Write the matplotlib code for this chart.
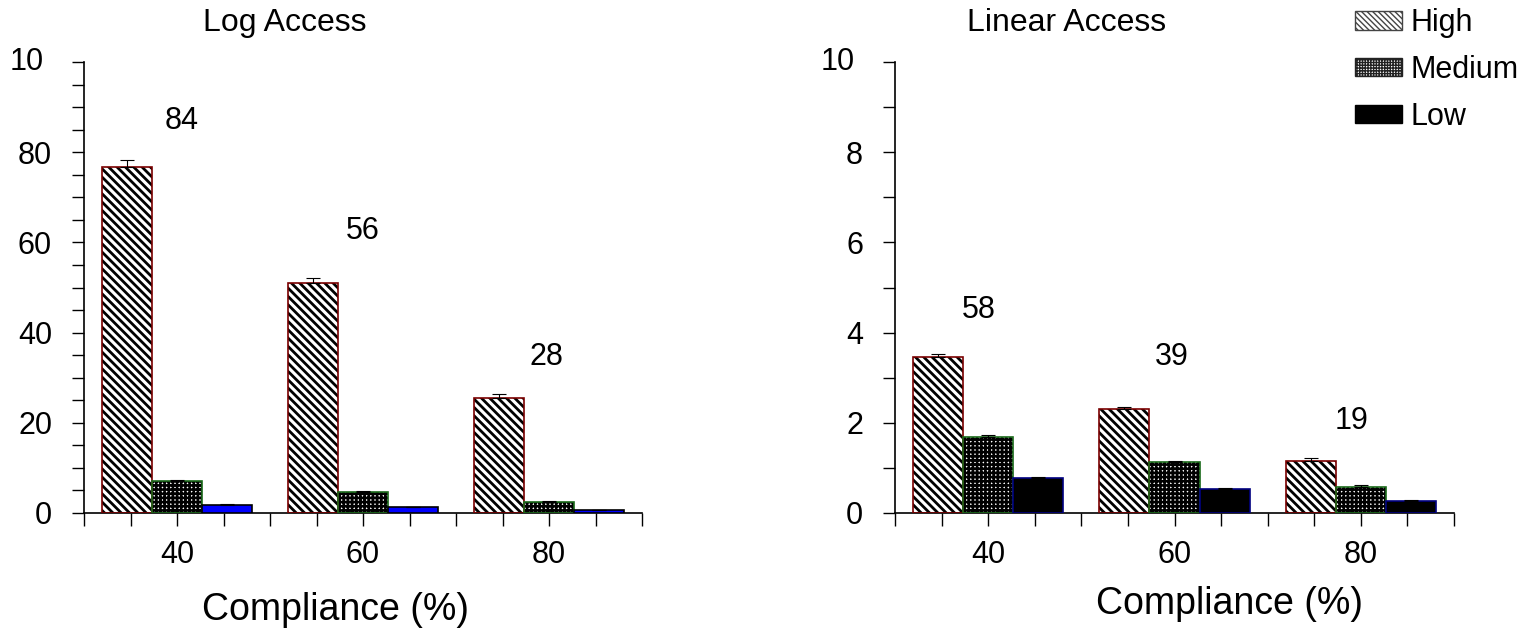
import numpy as np
import matplotlib
matplotlib.use("Agg")
import matplotlib.pyplot as plt
from matplotlib.patches import Patch

plt.rcParams['font.family'] = ['Liberation Sans', 'DejaVu Sans']

compliance = ['40', '60', '80']
levels = ['High', 'Medium', 'Low']

# Log Access panel
log_high = [76.7, 51.0, 25.6]
log_medium = [7.1, 4.7, 2.4]
log_low = [1.8, 1.3, 0.6]
log_high_err = [1.5, 1.0, 0.8]
log_medium_err = [0.3, 0.2, 0.2]
log_low_err = [0.1, 0.1, 0.1]
log_notes = ['84', '56', '28']
log_note_y = [87, 62.5, 34.5]

# Linear Access panel
lin_high = [3.46, 2.3, 1.15]
lin_medium = [1.69, 1.13, 0.58]
lin_low = [0.77, 0.53, 0.27]
lin_high_err = [0.06, 0.06, 0.06]
lin_medium_err = [0.03, 0.03, 0.03]
lin_low_err = [0.02, 0.02, 0.02]
lin_notes = ['58', '39', '19']
lin_note_y = [4.5, 3.45, 2.05]

fig = plt.figure(figsize=(15.34, 6.42), dpi=100)
ax1 = fig.add_axes([84 / 1534, 1 - 513 / 642, 558 / 1534, 451 / 642])
ax2 = fig.add_axes([895 / 1534, 1 - 513 / 642, 559 / 1534, 451 / 642])

w = 1.075
centers = np.arange(3) * 4
FS = 22


def hatched_bar(ax, x, h, err, hatch, hatch_lw, edge):
    with plt.rc_context({'hatch.linewidth': hatch_lw, 'hatch.color': 'black'}):
        ax.bar(x, h, w, color='white', edgecolor='black', hatch=hatch, linewidth=0, zorder=2)
    ax.bar(x, h, w, fill=False, edgecolor=edge, linewidth=1.2, zorder=3)
    ax.errorbar(x, h, yerr=[np.zeros(len(h)), err], fmt='none', ecolor='black',
                elinewidth=0.8, capsize=5, capthick=0.8, zorder=4)


def panel(ax, high, medium, low, errs, low_face, low_edge, ymax, step, minor, notes, note_y, note_x):
    hatched_bar(ax, centers - w, high, errs[0], '\\' * 4, 2.0, '#7a0000')
    hatched_bar(ax, centers, medium, errs[1], '+' * 4, 1.9, '#1a6a1a')
    ax.bar(centers + w, low, w, color=low_face, edgecolor=low_edge, linewidth=1.2, zorder=3)
    ax.errorbar(centers + w, low, yerr=[np.zeros(3), errs[2]], fmt='none', ecolor='black',
                elinewidth=0.8, capsize=5, capthick=0.8, zorder=4)

    ax.set_xlim(-2, 10)
    ax.set_ylim(0, ymax)
    for s in ['top', 'right']:
        ax.spines[s].set_visible(False)
    ax.spines['left'].set_linewidth(1.2)
    ax.spines['bottom'].set_linewidth(1.2)

    ax.set_xticks(np.arange(-2, 11))
    ax.set_xticklabels(['' for _ in range(13)])
    ax.tick_params(axis='x', direction='out', length=9, width=1)
    for c, lab in zip(centers, compliance):
        ax.text(c, -0.06 * ymax, lab, ha='center', va='top', fontsize=FS)

    yt = np.arange(0, ymax + 0.01, step)
    ax.set_yticks(yt)
    labs = ['%g' % v for v in yt]
    labs[-1] = ''
    ax.set_yticklabels(labs, fontsize=FS)
    ax.set_yticks(np.arange(0, ymax + 0.01, minor), minor=True)
    ax.tick_params(axis='y', which='both', direction='out', length=9, width=1, pad=14)
    # top label reads "10" and sits a bit further left
    ax.annotate('10', xy=(0, ymax), xycoords=('axes fraction', 'data'),
                xytext=(-29, 0), textcoords='offset points',
                ha='right', va='center', fontsize=FS)

    for x, t, y in zip(note_x, notes, note_y):
        ax.text(x, y, t, ha='center', va='center', fontsize=FS)


panel(ax1, log_high, log_medium, log_low, [log_high_err, log_medium_err, log_low_err],
      '#0000ff', 'black', 100, 20, 5, log_notes, log_note_y, [0.1, 4.0, 7.95])
panel(ax2, lin_high, lin_medium, lin_low, [lin_high_err, lin_medium_err, lin_low_err],
      'black', '#000080', 10, 2, 1, lin_notes, lin_note_y, [-0.2, 3.95, 7.8])

fig.text(285 / 1534, 1 - 23 / 642, 'Log Access', ha='center', va='center', fontsize=23)
fig.text(1067 / 1534, 1 - 23 / 642, 'Linear Access', ha='center', va='center', fontsize=23)
fig.text(336 / 1534, 1 - 610 / 642, 'Compliance (%)', ha='center', va='center', fontsize=27)
fig.text(1229 / 1534, 1 - 604 / 642, 'Compliance (%)', ha='center', va='center', fontsize=27)

with plt.rc_context({'hatch.linewidth': 1.2}):
    handles = [Patch(facecolor='white', edgecolor='#444444', hatch='\\' * 6),
               Patch(facecolor='white', edgecolor='#222222', hatch='+' * 6),
               Patch(facecolor='black', edgecolor='black')]
fig.legend(handles, levels, loc='upper left', bbox_to_anchor=(1349 / 1534, 1 - 2 / 642),
           frameon=False, fontsize=FS, handlelength=1.54, handleheight=0.56,
           handletextpad=0.26, labelspacing=0.55, borderpad=0.2, borderaxespad=0)

fig.savefig('out.png', dpi=100)
